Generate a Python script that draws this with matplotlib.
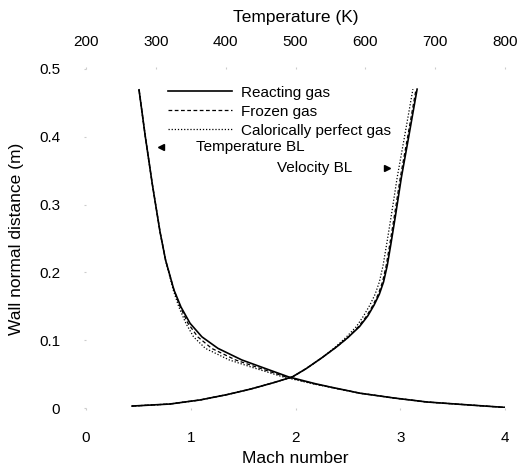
import matplotlib
matplotlib.use('Agg')
import matplotlib.pyplot as plt
import numpy as np

plt.rcParams['font.family'] = ['Liberation Sans', 'DejaVu Sans']

# Velocity boundary layer (Mach number, bottom axis)
vel_y = [0.003, 0.006, 0.012, 0.020, 0.028, 0.037, 0.046, 0.058, 0.074, 0.090, 0.104, 0.120,
         0.136, 0.152, 0.168, 0.186, 0.21, 0.242, 0.285, 0.34, 0.40, 0.47]
vel_reacting = [0.44, 0.80, 1.09, 1.35, 1.57, 1.78, 1.97, 2.10, 2.25, 2.39, 2.50, 2.61,
                2.69, 2.75, 2.80, 2.84, 2.875, 2.91, 2.955, 3.01, 3.08, 3.16]
vel_frozen = [0.44, 0.80, 1.09, 1.35, 1.57, 1.78, 1.97, 2.10, 2.25, 2.39, 2.50, 2.60,
              2.68, 2.74, 2.79, 2.83, 2.865, 2.90, 2.945, 3.00, 3.07, 3.15]
vel_perfect = [0.44, 0.80, 1.09, 1.35, 1.57, 1.78, 1.97, 2.10, 2.25, 2.38, 2.48, 2.58,
               2.65, 2.71, 2.76, 2.80, 2.835, 2.87, 2.915, 2.97, 3.04, 3.12]

# Temperature boundary layer (K, top axis)
temp_y = [0.469, 0.40, 0.33, 0.26, 0.218, 0.174, 0.149, 0.125, 0.105, 0.088, 0.071, 0.059,
          0.046, 0.036, 0.031, 0.022, 0.015, 0.009, 0.0045, 0.001]
temp_reacting = [276, 285, 295, 306, 314, 326, 336, 349, 366, 389, 423, 455,
                 490, 528, 550, 592, 640, 688, 750, 800]
temp_frozen = [276, 285, 295, 306, 314, 326, 335, 346, 360, 380, 414, 448,
               486, 526, 549, 592, 640, 688, 750, 800]
temp_perfect = [276, 285, 295, 306, 314, 325, 333, 343, 354, 371, 405, 441,
                482, 524, 548, 591, 640, 688, 750, 800]

mach_ticks = [0, 1, 2, 3, 4]
temp_ticks = [200, 300, 400, 500, 600, 700, 800]
y_ticks = [0, 0.1, 0.2, 0.3, 0.4, 0.5]
y_ticklabels = ['0', '0.1', '0.2', '0.3', '0.4', '0.5']

fig = plt.figure(figsize=(5.24, 4.68), dpi=100)
ax = fig.add_axes([0.164, 0.128, 0.800, 0.725])
ax2 = ax.twiny()

ax.plot(vel_reacting, vel_y, color='black', lw=1.2, ls='-', label='Reacting gas')
ax.plot(vel_frozen, vel_y, color='black', lw=0.9, ls=(0, (3, 2)), label='Frozen gas')
ax.plot(vel_perfect, vel_y, color='black', lw=0.9, ls=(0, (1, 1.5)), label='Calorically perfect gas')

ax2.plot(temp_reacting, temp_y, color='black', lw=1.2, ls='-')
ax2.plot(temp_frozen, temp_y, color='black', lw=0.9, ls=(0, (3, 2)))
ax2.plot(temp_perfect, temp_y, color='black', lw=0.9, ls=(0, (1, 1.5)))

ax.set_xlim(0, 4)
ax2.set_xlim(200, 800)
ax.set_ylim(0, 0.5)

for a in (ax, ax2):
    for s in a.spines.values():
        s.set_visible(False)

ax.set_xticks(mach_ticks)
ax.set_yticks(y_ticks)
ax.set_yticklabels(y_ticklabels)
ax2.set_xticks(temp_ticks)
ax.tick_params(axis='x', length=1.5, color='#cccccc', pad=15, labelsize=11)
ax.tick_params(axis='y', length=1.5, color='#cccccc', pad=17, labelsize=11)
ax2.tick_params(axis='x', length=1.5, color='#cccccc', pad=13, labelsize=11)

ax.set_xlabel('Mach number', fontsize=12.5, labelpad=4.5)
ax.set_ylabel('Wall normal distance (m)', fontsize=12.5, labelpad=11)
ax2.set_xlabel('Temperature (K)', fontsize=12.5, labelpad=9)

ax.legend(loc='upper left', bbox_to_anchor=(0.17, 0.982), frameon=False,
          fontsize=11, handlelength=4.2, handletextpad=0.6, labelspacing=0.33,
          borderpad=0.2)

ax.annotate('Temperature BL', xy=(0.72, 0.385), xytext=(1.05, 0.385),
            fontsize=11, va='center', ha='left')
ax.plot([0.72], [0.385], marker='<', color='black', ms=4, ls='none')
ax.annotate('Velocity BL', xy=(2.87, 0.354), xytext=(1.82, 0.354),
            fontsize=11, va='center', ha='left')
ax.plot([2.87], [0.354], marker='>', color='black', ms=4, ls='none')

fig.savefig('out.png', dpi=100)
